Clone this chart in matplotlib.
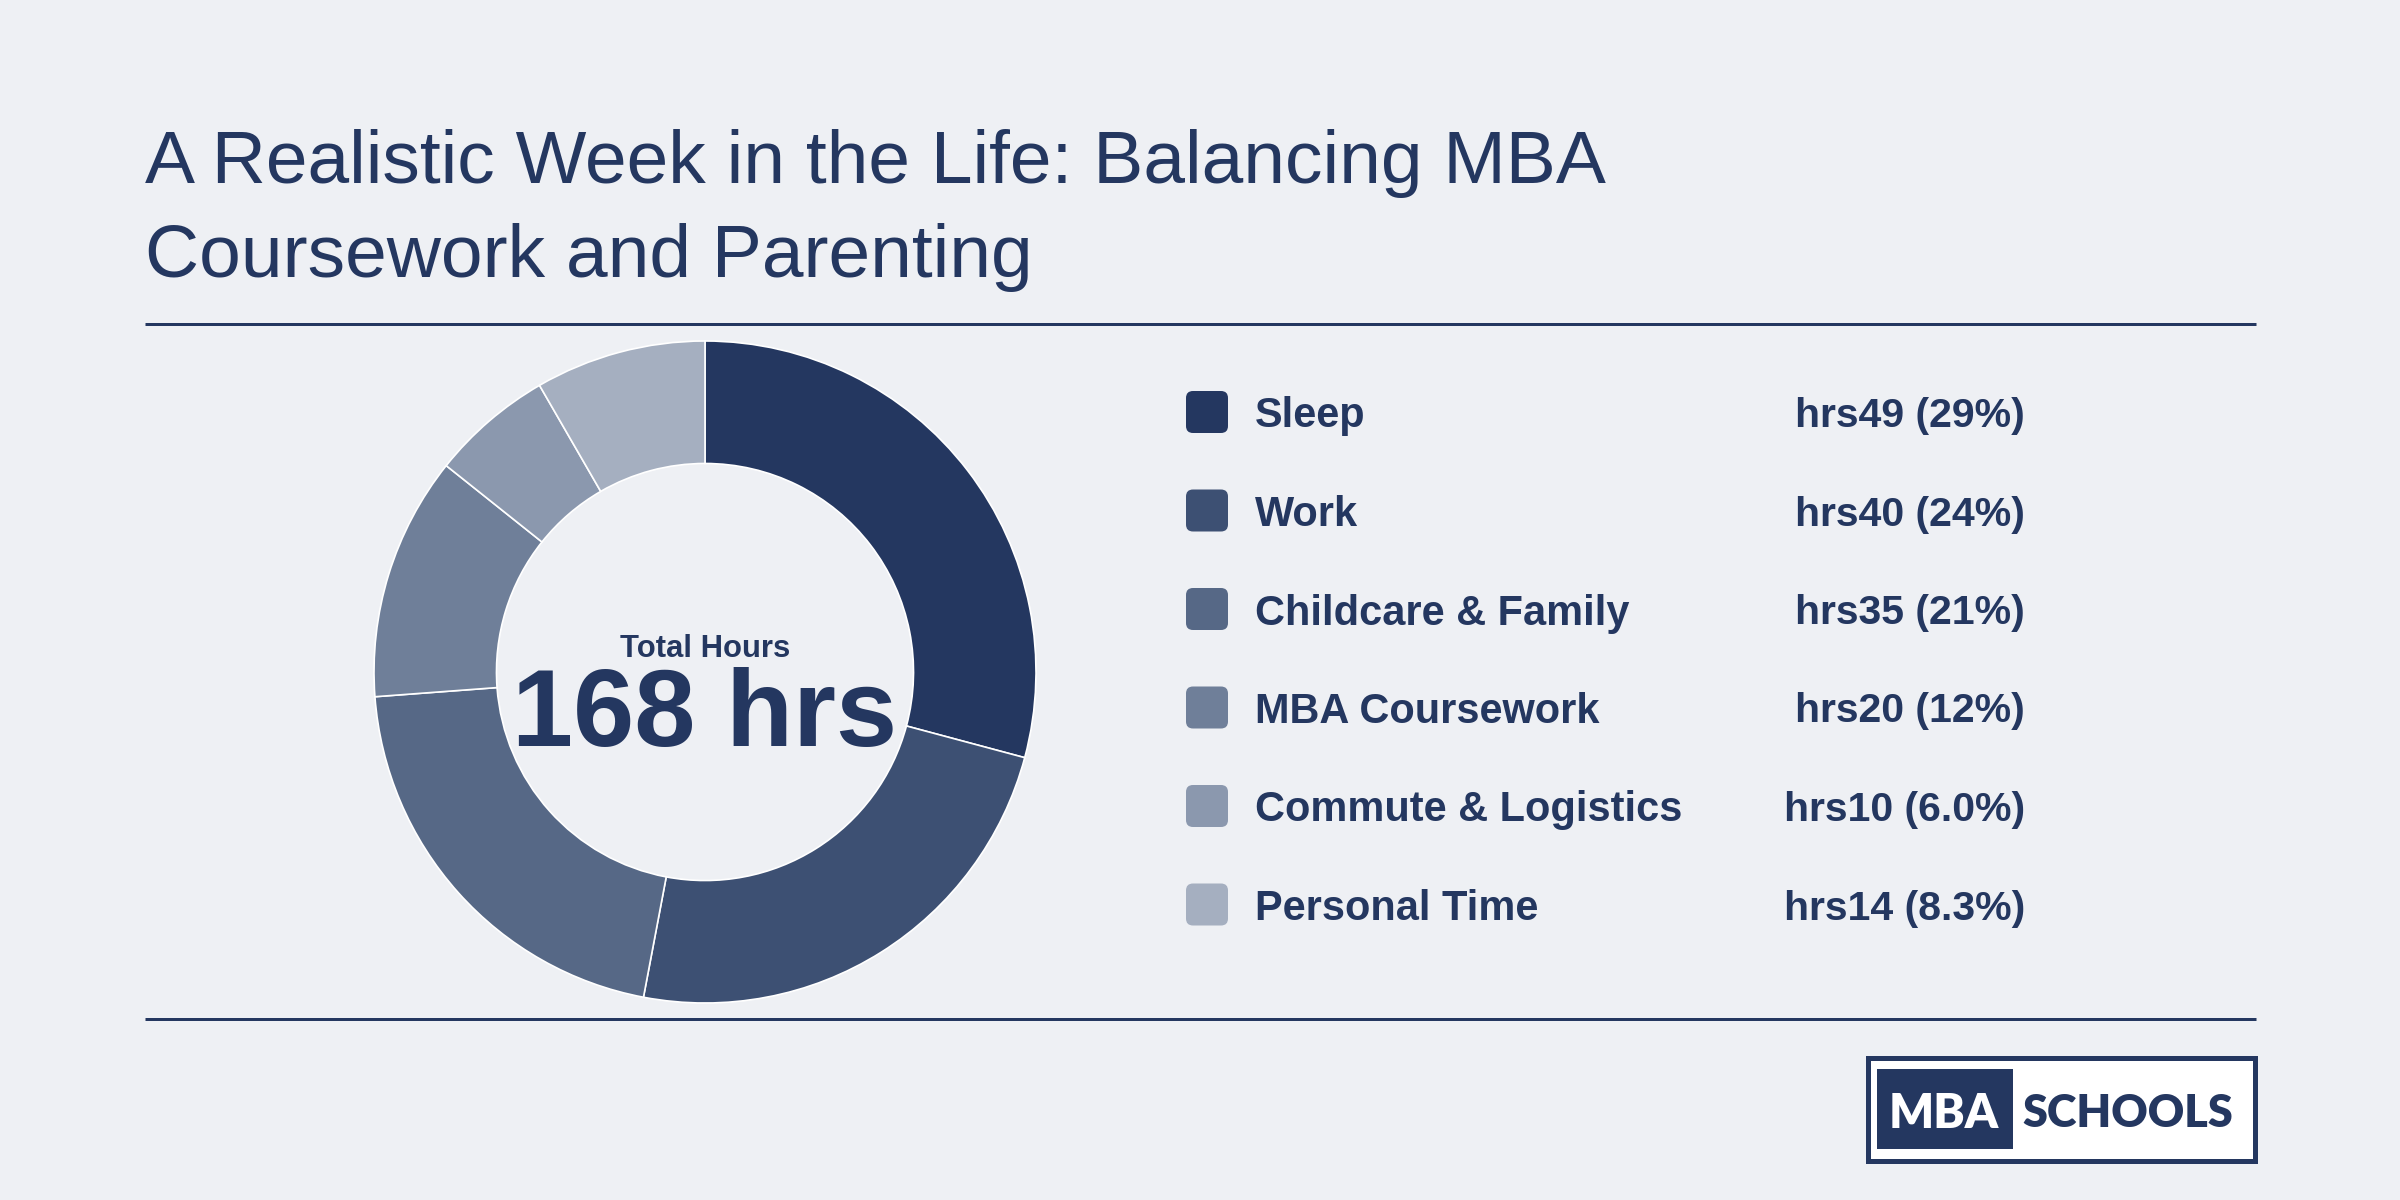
import matplotlib
matplotlib.use("Agg")
import matplotlib.pyplot as plt
from matplotlib.patches import FancyBboxPatch, Rectangle

# ---- data ----
categories = ["Sleep", "Work", "Childcare & Family", "MBA Coursework",
              "Commute & Logistics", "Personal Time"]
hours = [49, 40, 35, 20, 10, 14]
value_labels = ["hrs49 (29%)", "hrs40 (24%)", "hrs35 (21%)", "hrs20 (12%)",
                "hrs10 (6.0%)", "hrs14 (8.3%)"]
colors = ["#243760", "#3d5073", "#566886", "#6f7f99", "#8b98ae", "#a5afc0"]
title_lines = ["A Realistic Week in the Life: Balancing MBA",
               "Coursework and Parenting"]
center_label = "Total Hours"
center_value = "168 hrs"

BG = "#eef0f4"
NAVY = "#243760"
FONT = ["Liberation Sans", "DejaVu Sans"]

W, H = 2400, 1200
fig = plt.figure(figsize=(12, 6), dpi=200, facecolor=BG)
PT = 72 / 200  # points per pixel

# overlay axes in pixel coordinates (y downwards)
ov = fig.add_axes([0, 0, 1, 1], zorder=0)
ov.set_xlim(0, W)
ov.set_ylim(H, 0)
ov.axis("off")

# title
for yb, line in zip((183, 277), title_lines):
    ov.text(145, yb, line, fontsize=75 * PT, color=NAVY, family=FONT,
            va="baseline", ha="left")

# rules
for yy in (324, 1019):
    ov.plot([145, 2256], [yy, yy], color=NAVY, lw=3 * PT,
            solid_capstyle="butt")

# donut
cx, cy, r = 705, 672, 331
ax = fig.add_axes([(cx - r) / W, 1 - (cy + r) / H, 2 * r / W, 2 * r / H],
                  zorder=1)
ax.pie(hours, colors=colors, startangle=90, counterclock=False, radius=1,
       wedgeprops=dict(width=0.37, edgecolor="white", linewidth=0.6))
ax.set_xlim(-1, 1)
ax.set_ylim(-1, 1)
ax.set_aspect("equal")
ax.axis("off")

ov.text(cx, 657, center_label, fontsize=31 * PT, color=NAVY, family=FONT,
        weight="bold", ha="center", va="baseline", zorder=5)
ov.text(cx, 746, center_value, fontsize=110 * PT, color=NAVY, family=FONT,
        weight="bold", ha="center", va="baseline", zorder=5)

# legend
row0, dy = 412, 98.5
for i, (cat, val, col) in enumerate(zip(categories, value_labels, colors)):
    yc = row0 + i * dy
    ov.add_patch(FancyBboxPatch((1186 + 7, yc - 21 + 7), 42 - 14, 42 - 14,
                                boxstyle="round,pad=7",
                                facecolor=col, edgecolor="none"))
    ov.text(1255, yc, cat, fontsize=41.5 * PT, color=NAVY, family=FONT,
            weight="bold", ha="left", va="center_baseline")
    ov.text(2025, yc, val, fontsize=41 * PT, color=NAVY, family=FONT,
            weight="bold", ha="right", va="center_baseline")

# logo
ov.add_patch(Rectangle((1868, 1058), 2255 - 1868, 1161 - 1058,
                       facecolor="white", edgecolor=NAVY, linewidth=5 * PT))
ov.add_patch(Rectangle((1877, 1069), 2013 - 1877, 1149 - 1069,
                       facecolor=NAVY, edgecolor="none"))
LOGO_FONT = ["Lato", "DejaVu Sans"]
ov.text(1944, 1110, "MBA", fontsize=47 * PT, color="white",
        family=LOGO_FONT, weight="heavy", ha="center", va="center_baseline")
ov.text(2128, 1110, "SCHOOLS", fontsize=45 * PT, color=NAVY,
        family=LOGO_FONT, weight="heavy", ha="center", va="center_baseline")

fig.savefig("out.png", dpi=200, facecolor=BG)
